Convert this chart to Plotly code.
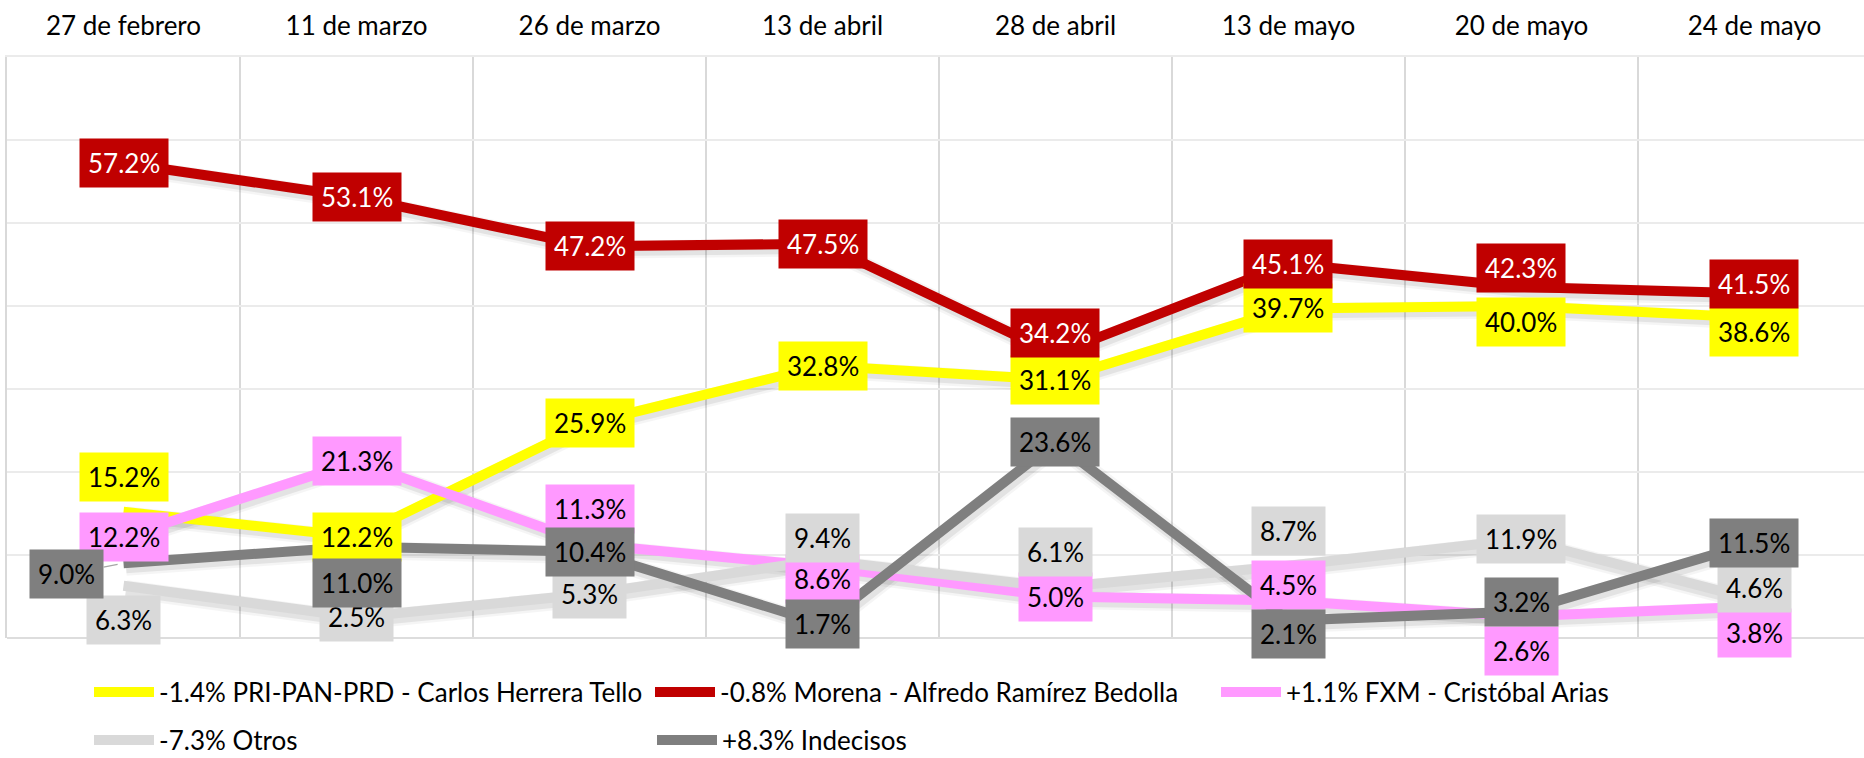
import plotly.graph_objects as go

# ---------------- data ----------------
categories = ["27 de febrero", "11 de marzo", "26 de marzo", "13 de abril",
              "28 de abril", "13 de mayo", "20 de mayo", "24 de mayo"]

pri_pan_prd = [15.2, 12.2, 25.9, 32.8, 31.1, 39.7, 40.0, 38.6]
morena = [57.2, 53.1, 47.2, 47.5, 34.2, 45.1, 42.3, 41.5]
fxm = [12.2, 21.3, 11.3, 8.6, 5.0, 4.5, 2.6, 3.8]
otros = [6.3, 2.5, 5.3, 9.4, 6.1, 8.7, 11.9, 4.6]
indecisos = [9.0, 11.0, 10.4, 1.7, 23.6, 2.1, 3.2, 11.5]

names = ["-1.4% PRI-PAN-PRD - Carlos Herrera Tello",
         "-0.8% Morena - Alfredo Ramírez Bedolla",
         "+1.1% FXM - Cristóbal Arias",
         "-7.3% Otros",
         "+8.3% Indecisos"]

# ---------------- styles ----------------
colors = ["#FFFF00", "#C00000", "#FF99FF", "#D9D9D9", "#7F7F7F"]
label_font_colors = ["#000000", "#FFFFFF", "#000000", "#000000", "#000000"]
# vertical label offsets in px (positive = up)
label_yshift = [
    [35, 0, 0, 0, 0, 0, -16, -14],
    [0, 0, 0, 0, 21, 0, 19, 10],
    [0, 0, 35, -12, 0, 16, -35, -27],
    [-34, 0, 0, 22, 35, 35, 0, 12],
    [-11, -36, 0, 0, 0, -13, 9, 0],
]
leader = {(4, 0): (-57, 11)}  # label drawn away from point with leader line

FONT = "Lato"
W, H = 1864, 758
L, R, T, B = 7, 0, 57, 120
XMAX = 7.47
YMAX = 70
px_per_x = (W - L - R) / (XMAX + 0.5)
px_per_y = (H - T - B) / YMAX
sdx = 2.5 / px_per_x
sdy = 3.5 / px_per_y

all_series = [pri_pan_prd, morena, fxm, otros, indecisos]

fig = go.Figure()

# shadows (on hidden, slightly shifted axes)
for vals in all_series:
    for w, a in [(18, 0.04), (13, 0.07)]:
        fig.add_trace(go.Scatter(x=categories, y=vals, mode="lines",
                                 line=dict(color=f"rgba(0,0,0,{a})", width=w),
                                 hoverinfo="skip", showlegend=False,
                                 xaxis="x", yaxis="y"))

legend_ids = ["legend", "legend2", "legend3", "legend4", "legend5"]
for i, vals in enumerate(all_series):
    fig.add_trace(go.Scatter(x=categories, y=vals, mode="lines", name=names[i],
                             line=dict(color=colors[i], width=10),
                             xaxis="x2", yaxis="y2", legend=legend_ids[i]))

annotations = []
for i, vals in enumerate(all_series):
    for j, v in enumerate(vals):
        common = dict(x=categories[j], y=v, xref="x2", yref="y2", text=f"{v:.1f}%",
                      font=dict(family=FONT, size=26, color=label_font_colors[i]),
                      bgcolor=colors[i], borderpad=8)
        if (i, j) in leader:
            ax, ay = leader[(i, j)]
            annotations.append(dict(showarrow=True, ax=ax, ay=ay, arrowhead=0,
                                    arrowwidth=1.2, arrowcolor="#A6A6A6",
                                    standoff=6, **common))
        else:
            annotations.append(dict(showarrow=False, yshift=label_yshift[i][j], **common))

legend_common = dict(orientation="h", yanchor="middle", xanchor="left",
                     xref="container", yref="container",
                     font=dict(family=FONT, size=26, color="#000000"),
                     bgcolor="rgba(0,0,0,0)", itemwidth=60)
legend_pos = [(97, 692), (658, 692), (1224, 692), (97, 740), (660, 740)]
legend_layout = {}
for k, (lx, ly) in enumerate(legend_pos):
    legend_layout[legend_ids[k]] = dict(x=(lx - 8) / W, y=1 - ly / H, **legend_common)

fig.update_layout(
    width=W, height=H,
    margin=dict(l=L, r=R, t=T, b=B, autoexpand=False),
    paper_bgcolor="white", plot_bgcolor="white",
    annotations=annotations,
    font=dict(family=FONT, size=26, color="#000000"),
    xaxis=dict(type="category", categoryarray=categories, range=[-0.5 - sdx, XMAX - sdx],
               visible=False, fixedrange=True),
    yaxis=dict(range=[sdy, YMAX + sdy], visible=False, fixedrange=True),
    xaxis2=dict(type="category", categoryarray=categories, range=[-0.5, XMAX],
                overlaying="x", anchor="y2", side="top", tickson="boundaries",
                showgrid=True, gridcolor="#D9D9D9", gridwidth=2, ticks="",
                showline=True, linecolor="#EBEBEB", linewidth=2,
                zeroline=False, ticklabelstandoff=10,
                tickfont=dict(family=FONT, size=26, color="#000000")),
    yaxis2=dict(range=[0, YMAX], dtick=10, tick0=0, overlaying="y", anchor="x2",
                showgrid=True, gridcolor="#EBEBEB", gridwidth=2, zeroline=True,
                zerolinecolor="#DDDDDD", zerolinewidth=2, showticklabels=False,
                ticks="", showline=True, linecolor="#D9D9D9", linewidth=2),
    **legend_layout,
)

fig.write_html("out.html", config={"displayModeBar": False},
               post_script="document.body.style.margin='0px';document.body.style.overflow='hidden';")
